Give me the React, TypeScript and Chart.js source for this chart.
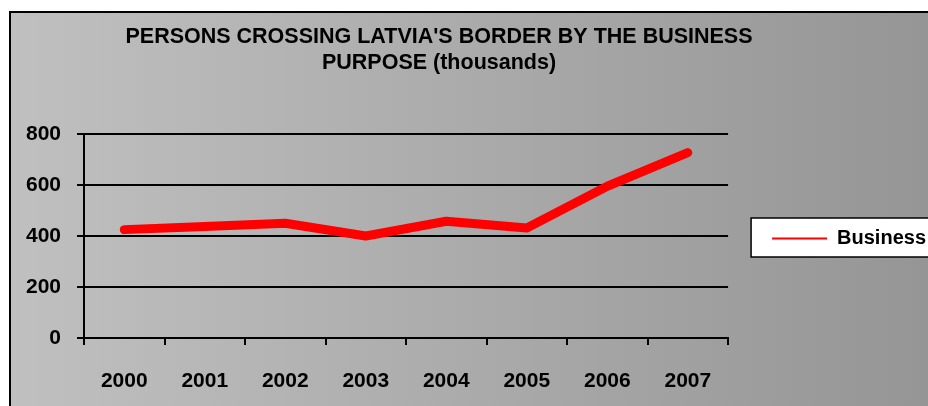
import React, { useEffect, useRef } from 'react';
import { Chart, registerables } from 'chart.js';

Chart.register(...registerables);

const years = ['2000', '2001', '2002', '2003', '2004', '2005', '2006', '2007'];
const business = [425, 437, 450, 400, 458, 431, 595, 727];
const yTicks = [0, 200, 400, 600, 800];
const titleLines = ["PERSONS CROSSING LATVIA'S BORDER BY THE BUSINESS", 'PURPOSE (thousands)'];
const seriesName = 'Business';

const FONT = "'Liberation Sans', Arial, Helvetica, sans-serif";
const CANVAS_W = 994;
const CANVAS_H = 398;
const CANVAS_LEFT = -66;

const framePlugin = {
  id: 'frameAndLegendBox',
  beforeDraw(chart: any) {
    const { ctx, width, height } = chart;
    ctx.save();
    const x0 = 67;
    const y0 = 3;
    const g = ctx.createLinearGradient(x0, 0, width, 0);
    g.addColorStop(0, '#c0c0c0');
    g.addColorStop(1, '#959595');
    ctx.fillStyle = g;
    ctx.fillRect(x0, y0, width - x0 + 10, height - y0 + 10);
    ctx.strokeStyle = '#000';
    ctx.lineWidth = 2;
    ctx.beginPath();
    ctx.moveTo(x0 + 1, height + 5);
    ctx.lineTo(x0 + 1, y0 + 1);
    ctx.lineTo(width + 5, y0 + 1);
    ctx.stroke();
    const lg = chart.legend;
    if (lg) {
      const pad = lg.options.labels.padding;
      const cy = (lg.top + lg.bottom) / 2 + 2;
      const bx = lg.left + pad - 21;
      ctx.fillStyle = '#ffffff';
      ctx.fillRect(bx, cy - 20, width - bx + 10, 39);
      ctx.lineWidth = 1.5;
      ctx.strokeStyle = '#000';
      ctx.strokeRect(bx, cy - 20, width - bx + 10, 39);
    }
    ctx.restore();
  },
};

export default function App() {
  const ref = useRef<HTMLCanvasElement | null>(null);

  useEffect(() => {
    if (!ref.current) return;
    const chart = new Chart(ref.current, {
      type: 'line',
      data: {
        labels: years,
        datasets: [
          {
            label: seriesName,
            data: business,
            borderColor: '#ff0000',
            backgroundColor: '#ff0000',
            borderWidth: 9,
            borderCapStyle: 'round',
            borderJoinStyle: 'round',
            pointRadius: 0,
            pointHoverRadius: 0,
            tension: 0,
            fill: false,
          },
        ],
      },
      options: {
        responsive: false,
        animation: false,
        devicePixelRatio: 1,
        layout: { padding: 0 },
        plugins: {
          tooltip: { enabled: false },
          title: {
            display: true,
            text: titleLines,
            color: '#000',
            font: { family: FONT, size: 21.5, weight: 'bold', lineHeight: 26 / 21.5 },
            padding: { top: 16, bottom: 58 },
          },
          legend: {
            display: true,
            position: 'right',
            fullSize: false,
            title: { display: true, text: '', padding: 2, font: { size: 1, lineHeight: 1 } },
            labels: {
              color: '#000',
              font: { family: FONT, size: 20, weight: 'bold' },
              boxWidth: 55,
              boxHeight: 2,
              padding: 44,
              generateLabels: (c: any) =>
                c.data.datasets.map((ds: any, i: number) => ({
                  text: ds.label,
                  fillStyle: '#ff0000',
                  strokeStyle: '#ff0000',
                  lineWidth: 0,
                  fontColor: '#000',
                  datasetIndex: i,
                  hidden: false,
                })),
            },
          },
        },
        scales: {
          x: {
            type: 'category',
            offset: true,
            grid: {
              offset: true,
              drawOnChartArea: false,
              drawTicks: true,
              tickLength: 7,
              color: '#000',
              lineWidth: 2,
            },
            border: { display: true, color: '#000', width: 2 },
            ticks: {
              color: '#000',
              font: { family: FONT, size: 21, weight: 'bold' },
              padding: 24,
              maxRotation: 0,
              autoSkip: false,
            },
            afterFit: (s: any) => {
              s.height = 68;
            },
          },
          y: {
            min: 0,
            max: 800,
            afterBuildTicks: (s: any) => {
              s.ticks = yTicks.map((v) => ({ value: v }));
            },
            grid: {
              drawTicks: true,
              tickLength: 7,
              color: '#000',
              lineWidth: 2,
            },
            border: { display: true, color: '#000', width: 2 },
            ticks: {
              color: '#000',
              font: { family: FONT, size: 21, weight: 'bold' },
              padding: 16,
            },
            afterFit: (s: any) => {
              s.width = 142;
            },
          },
        },
      },
      plugins: [framePlugin],
    } as any);
    return () => chart.destroy();
  }, []);

  return (
    <div
      style={{
        position: 'fixed',
        left: 8,
        top: 8,
        width: 920,
        height: CANVAS_H,
        overflow: 'hidden',
      }}
    >
      <canvas
        ref={ref}
        width={CANVAS_W}
        height={CANVAS_H}
        style={{ position: 'absolute', left: CANVAS_LEFT, top: 0, width: CANVAS_W, height: CANVAS_H }}
      />
    </div>
  );
}
